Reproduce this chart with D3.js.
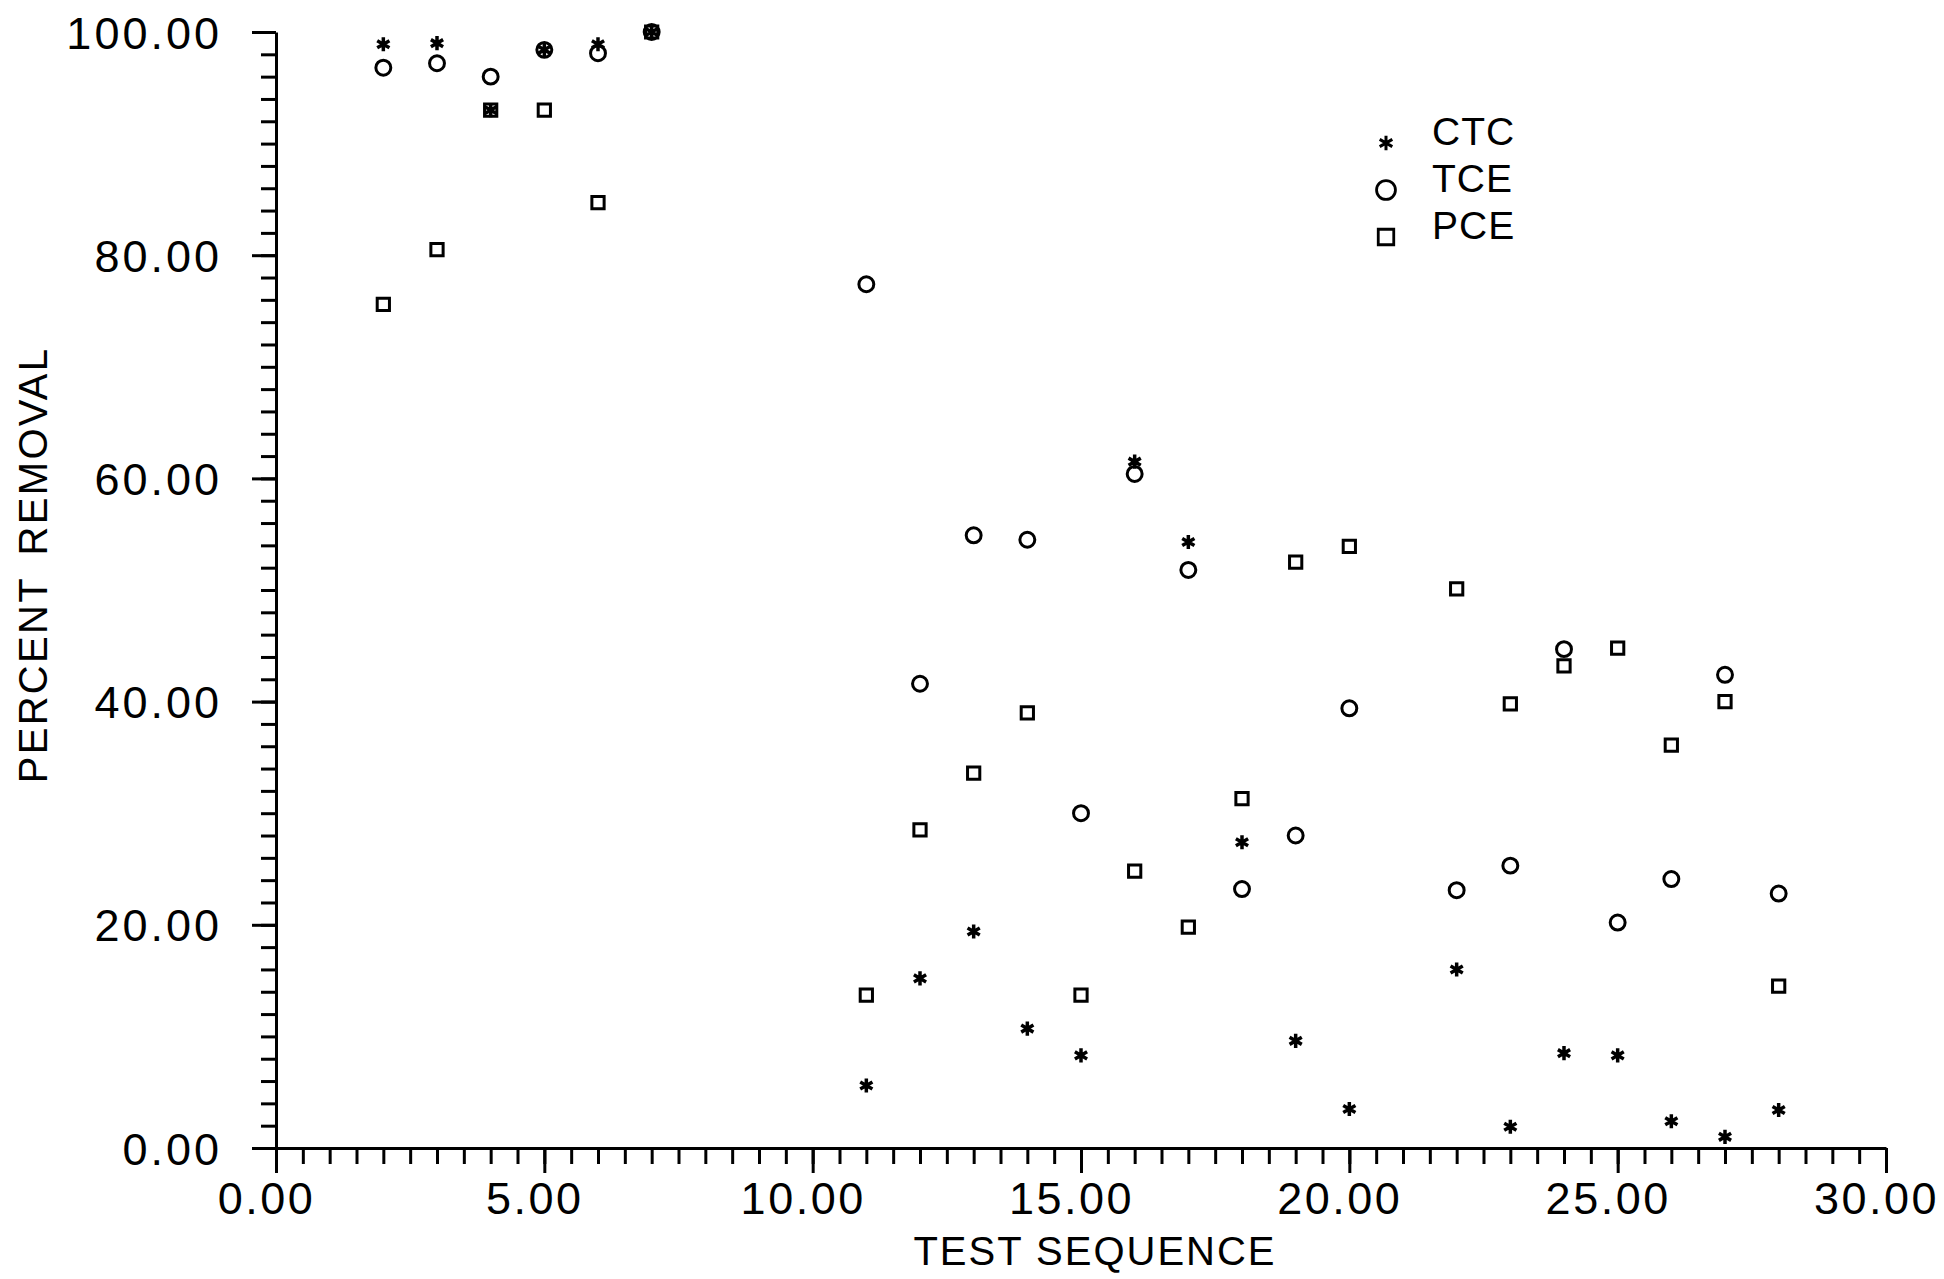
<!DOCTYPE html>
<html>
<head>
<meta charset="utf-8">
<script src="https://cdn.jsdelivr.net/npm/d3@7"></script>
<style>
  html, body { margin: 0; padding: 0; background: #fff; }
  svg { display: block; }
  text { font-family: "Liberation Sans", Arial, sans-serif; fill: #000; }
</style>
</head>
<body>
<svg id="chart" width="1944" height="1279"></svg>
<script>
// ---- data ----
const sequence = [2, 3, 4, 5, 6, 7, 11, 12, 13, 14, 15, 16, 17, 18, 19, 20, 22, 23, 24, 25, 26, 27, 28];
const ctc = [98.9, 99.0, 93.0, 98.4, 98.9, 100, 5.6, 15.2, 19.4, 10.7, 8.3, 61.5, 54.3, 27.4, 9.6, 3.5, 16.0, 1.9, 8.5, 8.3, 2.4, 1.0, 3.4];
const tce = [96.8, 97.2, 96.0, 98.4, 98.1, 100, 77.4, 41.6, 54.9, 54.5, 30.0, 60.4, 51.8, 23.2, 28.0, 39.4, 23.1, 25.3, 44.7, 20.2, 24.1, 42.4, 22.8];
const pce = [75.6, 80.5, 93.0, 93.0, 84.7, 100, 13.7, 28.5, 33.6, 39.0, 13.7, 24.8, 19.8, 31.3, 52.5, 53.9, 50.1, 39.8, 43.2, 44.8, 36.1, 40.0, 14.5];
const seriesNames = ["CTC", "TCE", "PCE"];
const xTicks = [0, 5, 10, 15, 20, 25, 30];
const yTicks = [0, 20, 40, 60, 80, 100];
const xLabel = "TEST SEQUENCE";
const yLabel = "PERCENT REMOVAL";

// ---- layout ----
const svg = d3.select("#chart");
const x = d3.scaleLinear().domain([0, 30]).range([276, 1886]);
const y = d3.scaleLinear().domain([0, 100]).range([1148, 32]);
const fmt = d3.format(".2f");
const tickFont = 45;

const symbols = {
  CTC: d3.symbol(d3.symbolAsterisk, 140),
  TCE: d3.symbol(d3.symbolCircle, 175),
  PCE: d3.symbol(d3.symbolSquare, 150)
};
const values = { CTC: ctc, TCE: tce, PCE: pce };

// minor ticks
svg.append("g")
  .attr("transform", `translate(0,${y(0)})`)
  .call(d3.axisBottom(x).tickValues(d3.range(0, 30.01, 0.5)).tickSize(16).tickFormat(""))
  .call(g => g.select(".domain").remove())
  .call(g => g.selectAll("line").attr("stroke", "#000").attr("stroke-width", 3));

svg.append("g")
  .attr("transform", `translate(${x(0)},0)`)
  .call(d3.axisLeft(y).tickValues(d3.range(0, 100.01, 2)).tickSize(15).tickFormat(""))
  .call(g => g.select(".domain").remove())
  .call(g => g.selectAll("line").attr("stroke", "#000").attr("stroke-width", 3));

// major x axis
svg.append("g")
  .attr("transform", `translate(0,${y(0)})`)
  .call(d3.axisBottom(x).tickValues(xTicks).tickSize(25).tickSizeOuter(0).tickFormat(fmt))
  .call(g => g.select(".domain").attr("stroke", "#000").attr("stroke-width", 3))
  .call(g => g.selectAll("line").attr("stroke", "#000").attr("stroke-width", 3))
  .call(g => g.selectAll("text")
    .attr("y", 66).attr("dy", null).attr("x", -10)
    .attr("font-size", tickFont)
    .attr("font-family", "Liberation Sans")
    .attr("letter-spacing", 2.5)
    .attr("fill", "#000"));

// major y axis
svg.append("g")
  .attr("transform", `translate(${x(0)},0)`)
  .call(d3.axisLeft(y).tickValues(yTicks).tickSize(24).tickSizeOuter(0).tickFormat(fmt))
  .call(g => g.select(".domain").attr("stroke", "#000").attr("stroke-width", 3))
  .call(g => g.selectAll("line").attr("stroke", "#000").attr("stroke-width", 3))
  .call(g => g.selectAll("text")
    .attr("x", -54).attr("dy", null).attr("y", 16)
    .attr("font-size", tickFont)
    .attr("font-family", "Liberation Sans")
    .attr("letter-spacing", 3)
    .attr("fill", "#000"));

// axis titles
svg.append("text")
  .attr("x", 1095).attr("y", 1265)
  .attr("text-anchor", "middle")
  .attr("font-size", 40)
  .attr("letter-spacing", 2)
  .text(xLabel);

svg.append("text")
  .attr("transform", "translate(47,565) rotate(-90)")
  .attr("text-anchor", "middle")
  .attr("font-size", 40)
  .attr("letter-spacing", 2.3)
  .attr("word-spacing", 8)
  .text(yLabel);

// data marks
const plot = svg.append("g");
["PCE", "TCE", "CTC"].forEach(name => {
  plot.append("g")
    .selectAll("path")
    .data(sequence.map((s, i) => ({ s, v: values[name][i] })))
    .join("path")
    .attr("transform", d => `translate(${x(d.s)},${y(d.v)})`)
    .attr("d", symbols[name]())
    .attr("fill", "none")
    .attr("stroke", "#000")
    .attr("stroke-width", name === "CTC" ? 3.5 : 3);
});

// legend
const legend = svg.append("g");
const legendY = [143, 190, 237];
seriesNames.forEach((name, i) => {
  const sym = name === "CTC" ? d3.symbol(d3.symbolAsterisk, 150)
            : name === "TCE" ? d3.symbol(d3.symbolCircle, 280)
            : d3.symbol(d3.symbolSquare, 240);
  legend.append("path")
    .attr("transform", `translate(1386,${legendY[i]})`)
    .attr("d", sym())
    .attr("fill", "none")
    .attr("stroke", "#000")
    .attr("stroke-width", name === "CTC" ? 3 : 2.8);
  legend.append("text")
    .attr("x", 1432).attr("y", legendY[i] + 2)
    .attr("font-size", 39)
    .attr("letter-spacing", 1)
    .text(name);
});
</script>
</body>
</html>
